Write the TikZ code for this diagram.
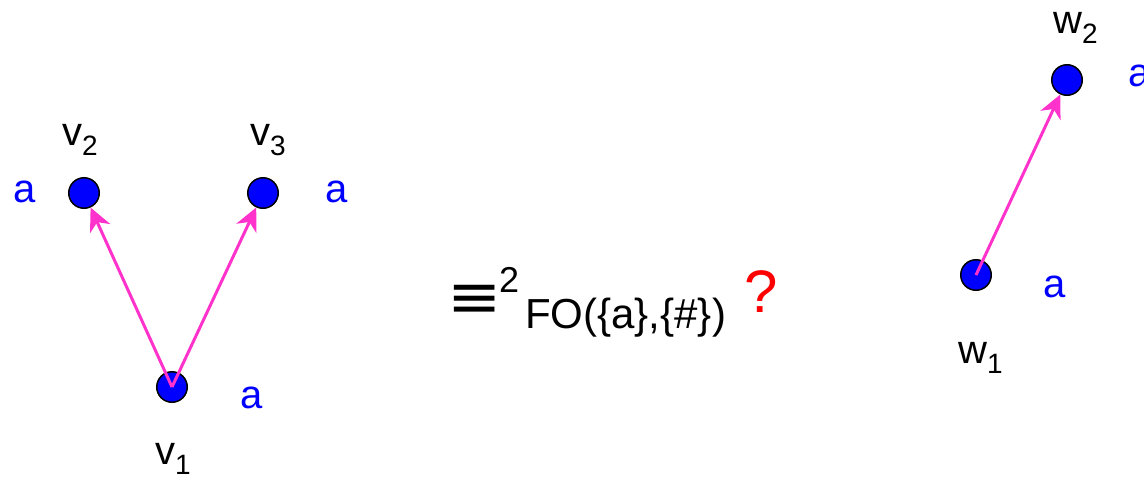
\documentclass[tikz,border=0pt]{standalone}
\usepackage{fontspec}
\usepackage{graphicx}
\setmainfont{Liberation Sans}
\newfontfamily\symfont{DejaVu Sans}
\usetikzlibrary{arrows.meta}
\definecolor{vertblue}{HTML}{0000FF}
\definecolor{edgepink}{HTML}{FF33CC}
\definecolor{askred}{HTML}{FF0000}
\tikzset{
  vert/.style={circle, draw=black, line width=1.5pt, fill=vertblue, minimum size=30.5pt, inner sep=0pt},
  vname/.style={anchor=base west, inner sep=0pt, font=\fontsize{40}{48}\selectfont},
  lettr/.style={anchor=base west, inner sep=0pt, text=vertblue, font=\fontsize{40}{48}\selectfont},
  arc/.style={-{Stealth[length=23pt, width=22pt, inset=7pt]}, line width=3pt, draw=edgepink}
}
\newcommand{\idx}[2]{#1\raisebox{-10pt}{\fontsize{28}{28}\selectfont #2}}

\begin{document}
\begin{tikzpicture}[x=1pt, y=-1pt]
  \useasboundingbox (0,0) rectangle (1144,477);
  \node[vert] (v1) at (172,387) {};
  \node[vert] (v2) at (84,193) {};
  \node[vert] (v3) at (263,193) {};
  \node[vert] (w1) at (976,275) {};
  \node[vert] (w2) at (1067,80) {};
  \node[vname] (v1name) at ([shift={(-17,77)}]v1.center) {\idx{v}{1}};
  \node[vname] (v2name) at ([shift={(-22,-48)}]v2.center) {\idx{v}{2}};
  \node[vname] (v3name) at ([shift={(-13,-48)}]v3.center) {\idx{v}{3}};
  \node[vname] (w1name) at ([shift={(-18,88)}]w1.center) {\idx{w}{1}};
  \node[vname] (w2name) at ([shift={(-14,-47)}]w2.center) {\idx{w}{2}};
  \node[lettr] (v1lab) at ([shift={(68,21)}]v1.center) {a};
  \node[lettr] (v2lab) at ([shift={(-71,9)}]v2.center) {a};
  \node[lettr] (v3lab) at ([shift={(62,9)}]v3.center) {a};
  \node[lettr] (w1lab) at ([shift={(67,22)}]w1.center) {a};
  \node[lettr] (w2lab) at ([shift={(61,6)}]w2.center) {a};
  \node[inner sep=0pt] (equiv) at (475,301) {\scalebox{1.08}[1]{\symfont\fontsize{60}{60}\selectfont ≡}};
  \node[vname, font=\fontsize{36}{36}\selectfont] (rank) at (499,292) {2};
  \node[vname, font=\fontsize{42}{48}\selectfont] (logic) at (525,328) {FO(\{a\},\{\#\})};
  \node[vname, text=askred, font=\fontsize{60}{60}\selectfont] (ask) at (744,312) {?};
  \draw[arc] (v1.center) -- (v2);
  \draw[arc] (v1.center) -- (v3);
  \draw[arc] (w1.center) -- (w2);
\end{tikzpicture}
\end{document}
